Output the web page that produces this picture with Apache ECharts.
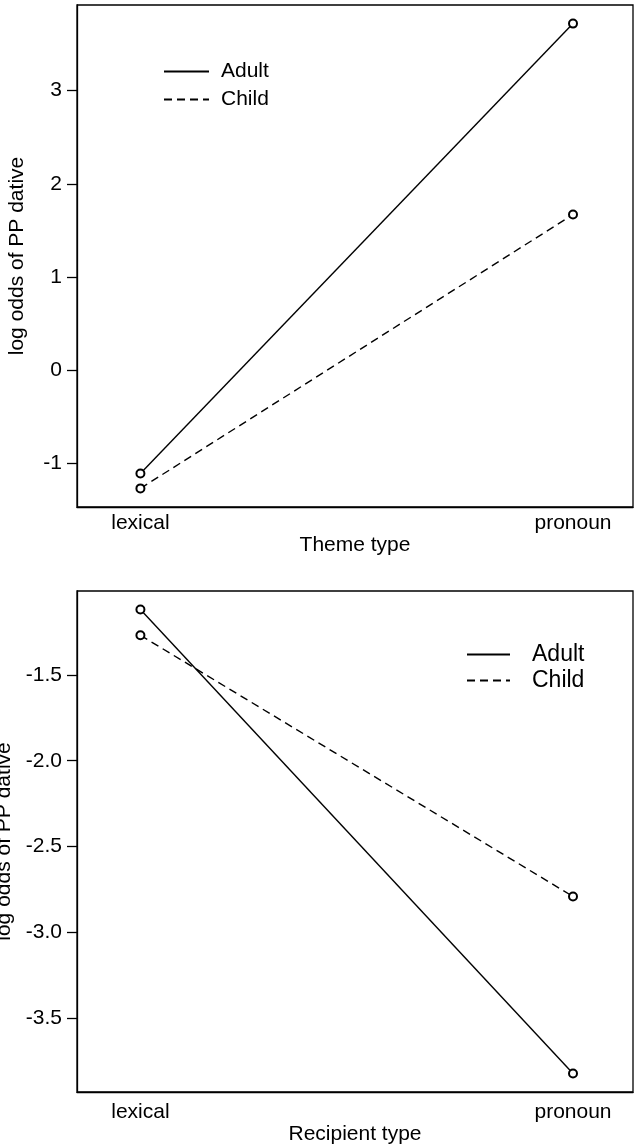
<!DOCTYPE html>
<html>
<head>
<meta charset="utf-8">
<script src="https://cdn.jsdelivr.net/npm/echarts@6/dist/echarts.min.js"></script>
<style>
html, body { margin: 0; padding: 0; background: #fff; }
#chart { width: 635px; height: 1145px; }
</style>
</head>
<body>
<div id="chart"></div>
<script>
// data
const groups = ['Adult', 'Child'];
const xPositions = [1, 2];
const typeLabels = ['lexical', 'pronoun'];
const themeAdult = [-1.11, 3.72];
const themeChild = [-1.27, 1.67];
const recipientAdult = [-1.12, -3.82];
const recipientChild = [-1.27, -2.79];
const themeTicks = [-1, 0, 1, 2, 3];
const recipientTicks = [-3.5, -3.0, -2.5, -2.0, -1.5];

const FONT = 'Liberation Sans';

// R style range: data extent padded by 4%
function rRange(a, b) {
    const all = a.concat(b);
    const lo = Math.min(...all), hi = Math.max(...all);
    const pad = (hi - lo) * 0.04;
    return [lo - pad, hi + pad];
}

function pairs(vals) {
    return xPositions.map((x, i) => [x, vals[i]]);
}

function xAxis(gridIndex, title, labelMargin, nameGap) {
    return {
        type: 'value', gridIndex: gridIndex,
        min: 0.8534, max: 2.1387,
        splitLine: { show: false },
        axisLine: { show: true, onZero: false, lineStyle: { color: '#000', width: 1.3 } },
        axisTick: { show: false },
        axisLabel: {
            customValues: xPositions, margin: labelMargin,
            color: '#000', fontFamily: FONT, fontSize: 21,
            formatter: v => typeLabels[xPositions.indexOf(v)] || ''
        },
        name: title, nameLocation: 'middle', nameGap: nameGap,
        nameTextStyle: { color: '#000', fontFamily: FONT, fontSize: 21 }
    };
}

function yAxis(gridIndex, range, ticks, digits, nameGap) {
    return {
        type: 'value', gridIndex: gridIndex,
        min: range[0], max: range[1],
        splitLine: { show: false },
        axisLine: { show: true, onZero: false, lineStyle: { color: '#000', width: 1.3 } },
        axisTick: { show: true, customValues: ticks, length: 10, lineStyle: { color: '#000', width: 1.3 } },
        axisLabel: {
            customValues: ticks, margin: 15,
            color: '#000', fontFamily: FONT, fontSize: 21,
            formatter: v => v.toFixed(digits)
        },
        name: 'log odds of PP dative', nameLocation: 'middle', nameGap: nameGap, nameRotate: 90,
        nameTextStyle: { color: '#000', fontFamily: FONT, fontSize: 21 }
    };
}

function lineSeries(name, idx, vals) {
    return {
        name: name, type: 'line',
        xAxisIndex: idx, yAxisIndex: idx,
        data: pairs(vals),
        symbol: 'emptyCircle', symbolSize: 8,
        itemStyle: { color: '#000', borderColor: '#000', borderWidth: 1.5 },
        lineStyle: { color: '#000', width: 1.4, type: name === 'Child' ? [8, 5] : 'solid' },
        emphasis: { disabled: true },
        animation: false
    };
}

function legend(left, top, gap, lineLen, textPad, fontSize) {
    return {
        data: groups, orient: 'vertical', left: left, top: top,
        padding: 0, itemGap: gap, itemWidth: lineLen, itemHeight: 23,
        selectedMode: false,
        itemStyle: { opacity: 0 },
        textStyle: { color: '#000', fontFamily: FONT, fontSize: fontSize, padding: [0, 0, 0, textPad] }
    };
}

const chart = echarts.init(document.getElementById('chart'));
chart.setOption({
    animation: false,
    grid: [
        { left: 77, top: 5, width: 556, height: 502, show: true, borderColor: '#000', borderWidth: 1.3, outerBoundsMode: 'none', containLabel: false },
        { left: 77, top: 591, width: 556, height: 501, show: true, borderColor: '#000', borderWidth: 1.3, outerBoundsMode: 'none', containLabel: false }
    ],
    xAxis: [
        xAxis(0, 'Theme type', 6, 27),
        xAxis(1, 'Recipient type', 10, 32)
    ],
    yAxis: [
        yAxis(0, rRange(themeAdult, themeChild), themeTicks, 0, 49),
        yAxis(1, rRange(recipientAdult, recipientChild), recipientTicks, 1, 57)
    ],
    legend: [
        legend(163, 61, 7, 45, 7, 21),
        legend(466, 643, 3, 43, 17, 23)
    ],
    series: [
        lineSeries('Adult', 0, themeAdult),
        lineSeries('Child', 0, themeChild),
        lineSeries('Adult', 1, recipientAdult),
        lineSeries('Child', 1, recipientChild)
    ]
});
</script>
</body>
</html>
